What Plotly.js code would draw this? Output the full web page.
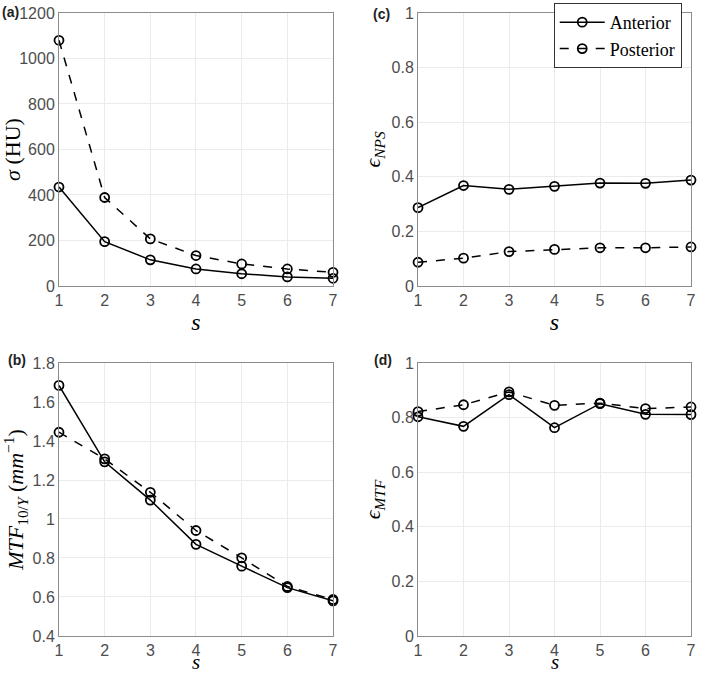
<!DOCTYPE html>
<html>
<head>
<meta charset="utf-8">
<script src="https://cdn.plot.ly/plotly-3.0.1.min.js"></script>
<style>
  html, body { margin: 0; padding: 0; background: #fff; }
  #grafico { width: 709px; height: 676px; }
</style>
</head>
<body>
<div id="grafico"></div>
<script>
// valores
var sValues = [1, 2, 3, 4, 5, 6, 7];

var sigmaAnterior = [435, 195, 115, 75, 54, 40, 34];
var sigmaPosterior = [1080, 389, 207, 134, 97, 75, 60];

var mtfAnterior = [1.685, 1.293, 1.097, 0.87, 0.758, 0.648, 0.58];
var mtfPosterior = [1.445, 1.308, 1.137, 0.941, 0.801, 0.654, 0.587];

var npsAnterior = [0.287, 0.368, 0.354, 0.365, 0.377, 0.376, 0.388];
var npsPosterior = [0.087, 0.102, 0.126, 0.134, 0.140, 0.140, 0.143];

var emtfAnterior = [0.803, 0.768, 0.884, 0.763, 0.851, 0.812, 0.811];
var emtfPosterior = [0.822, 0.847, 0.894, 0.845, 0.853, 0.833, 0.839];

var nomes = ["Anterior", "Posterior"];

function serie(y, i, xa, ya, legenda){
    return {
        x: sValues,
        y: y,
        name: nomes[i],
        xaxis: xa,
        yaxis: ya,
        mode: "lines+markers",
        cliponaxis: false,
        showlegend: legenda,
        line: {color: "#000", width: 1.5, dash: i == 0 ? "solid" : "dash"},
        marker: {symbol: "circle-open", size: 9, color: "#000", line: {width: 1.8}}
    };
}

var data = [
    serie(npsAnterior, 0, "x3", "y3", true),
    serie(npsPosterior, 1, "x3", "y3", true),
    serie(sigmaAnterior, 0, "x", "y", false),
    serie(sigmaPosterior, 1, "x", "y", false),
    serie(mtfAnterior, 0, "x2", "y2", false),
    serie(mtfPosterior, 1, "x2", "y2", false),
    serie(emtfAnterior, 0, "x4", "y4", false),
    serie(emtfPosterior, 1, "x4", "y4", false)
];

var tickFont = {family: "Liberation Sans, Arial", size: 16, color: "#4d4d4d"};
var titleFont = {family: "Liberation Serif, Times New Roman", size: 22, color: "#000"};
var sFont = {family: "Liberation Serif, Times New Roman", size: 24, color: "#000"};

function eixoX(dominio, anchor, titulo){
    return {
        domain: dominio, anchor: anchor,
        range: [1, 7], dtick: 1, tick0: 1,
        showline: true, mirror: true, linecolor: "#8c8c8c", linewidth: 1,
        showgrid: true, gridcolor: "#ebebeb", zeroline: false,
        tickfont: tickFont,
        title: {text: titulo, font: sFont, standoff: 3}
    };
}

function eixoY(dominio, anchor, faixa, passo, titulo){
    return {
        domain: dominio, anchor: anchor,
        range: faixa, dtick: passo,
        showline: true, mirror: true, linecolor: "#8c8c8c", linewidth: 1,
        showgrid: true, gridcolor: "#ebebeb", zeroline: false,
        tickfont: tickFont,
        title: {text: titulo, font: titleFont, standoff: 4}
    };
}

var esq = [0.0832, 0.4697];
var dir = [0.5896, 0.9746];
var cima = [0.5769, 0.9808];
var baixo = [0.0592, 0.463];

// rotulos dos paineis
var rotulos = [
    {text: "<b>(a)</b>", x: 0, y: 0.997},
    {text: "<b>(b)</b>", x: 0.008, y: 0.482},
    {text: "<b>(c)</b>", x: 0.523, y: 0.994},
    {text: "<b>(d)</b>", x: 0.525, y: 0.482}
].map(function(a){
    a.xref = "paper"; a.yref = "paper";
    a.xanchor = "left"; a.yanchor = "top";
    a.showarrow = false;
    a.font = {family: "Liberation Sans, Arial", size: 14, color: "#222"};
    return a;
});

// titulo "s" dos paineis de baixo (o title do eixo fica preso na margem)
var sBaixo = [esq, dir].map(function(d){
    return {
        text: "<i>s</i>", xref: "paper", yref: "paper",
        x: (d[0] + d[1]) / 2, y: 0,
        xanchor: "center", yanchor: "bottom",
        showarrow: false,
        font: {family: sFont.family, size: 21, color: "#000"}
    };
});

var layout = {
    width: 709,
    height: 676,
    margin: {l: 0, r: 0, t: 0, b: 0},
    paper_bgcolor: "#fff",
    plot_bgcolor: "#fff",
    xaxis: eixoX(esq, "y", "<i>s</i>"),
    yaxis: eixoY(cima, "x", [0, 1200], 200, "<i>σ</i> (HU)"),
    xaxis2: eixoX(esq, "y2", ""),
    yaxis2: eixoY(baixo, "x2", [0.4, 1.8], 0.2, "<i>MTF</i><sub>10/<i>Y</i></sub> (<i>mm</i><sup>−1</sup>)"),
    xaxis3: eixoX(dir, "y3", "<i>s</i>"),
    yaxis3: eixoY(cima, "x3", [0, 1], 0.2, "<i>ϵ</i><sub><i>NPS</i></sub>"),
    xaxis4: eixoX(dir, "y4", ""),
    yaxis4: eixoY(baixo, "x4", [0, 1], 0.2, "<i>ϵ</i><sub><i>MTF</i></sub>"),
    legend: {
        x: 0.781, y: 0.9956, xanchor: "left", yanchor: "top",
        bgcolor: "#fff", bordercolor: "#333", borderwidth: 1,
        font: {family: "Liberation Serif, Times New Roman", size: 18, color: "#000"},
        itemwidth: 45,
        tracegroupgap: 2
    },
    annotations: rotulos.concat(sBaixo)
};

Plotly.newPlot("grafico", data, layout, {displayModeBar: false, staticPlot: true});
</script>
</body>
</html>
